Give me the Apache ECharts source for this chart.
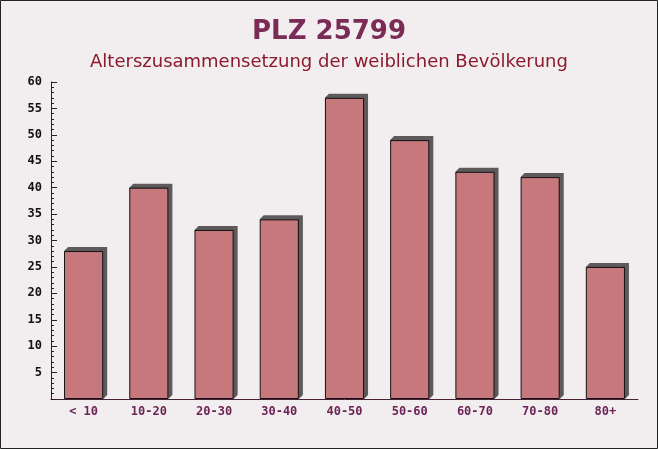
<!DOCTYPE html>
<html><head><meta charset="utf-8">
<script src="https://cdn.jsdelivr.net/npm/echarts@6/dist/echarts.min.js"></script>
<style>html,body{margin:0;padding:0;background:#f2eef0}#c{width:658px;height:449px}</style>
</head><body><div id="c"></div>
<script>
const categories = ['< 10','10-20','20-30','30-40','40-50','50-60','60-70','70-80','80+'];
const values = [28, 40, 32, 34, 57, 49, 43, 42, 25];
const yTicks = [5,10,15,20,25,30,35,40,45,50,55,60];
const titleText = 'PLZ 25799';
const subtitleText = 'Alterszusammensetzung der weiblichen Bevölkerung';

const chart = echarts.init(document.getElementById('c'), null, {renderer:'canvas'});
const D = 4;
chart.setOption({
  backgroundColor: '#f2eef0',
  animation: false,
  graphic: [
    {type:'rect', z:-10, silent:true, shape:{x:0.5,y:0.5,width:657,height:448}, style:{fill:'none', stroke:'#222', lineWidth:1}}
  ],
  title: [
    {text: titleText, left: 'center', top: 14, textStyle:{fontFamily:'DejaVu Sans', fontWeight:'bold', fontSize:26, color:'#7a2b56'}},
    {text: subtitleText, left: 'center', top: 48, textStyle:{fontFamily:'DejaVu Sans', fontWeight:'normal', fontSize:18, color:'#8a1a2c'}}
  ],
  grid: {left: 51, right: 20, top: 82, bottom: 50},
  xAxis: {
    type:'category', data: categories,
    axisLine:{lineStyle:{color:'#4a2038', width:1}},
    axisTick:{inside:true, length:5, alignWithLabel:false, lineStyle:{color:'#4a2038'}},
    axisLabel:{fontFamily:'DejaVu Sans Mono', fontWeight:'bold', fontSize:12, color:'#6b2455', margin:7}
  },
  yAxis: {
    type:'value', min:0, max:60, interval:5,
    axisLine:{show:true, lineStyle:{color:'#222', width:1}},
    axisTick:{show:true, inside:true, length:6, lineStyle:{color:'#222'}},
    minorTick:{show:true, splitNumber:5, length:3, lineStyle:{color:'#222'}},
    splitLine:{show:false},
    axisLabel:{fontFamily:'DejaVu Sans Mono', fontWeight:'bold', fontSize:12, color:'#111', margin:9,
      formatter: v => yTicks.includes(v) ? String(v) : ''}
  },
  series: [
    {
      type:'custom', z:1,
      data: values.map((v,i)=>[i,v]),
      renderItem: function(params, api){
        const top = api.coord([api.value(0), api.value(1)]);
        const base = api.coord([api.value(0), 0]);
        const bw = api.size([1,0])[0]*0.6;
        const x0 = top[0]-bw/2, x1 = top[0]+bw/2;
        return {type:'polygon', shape:{points:[[x0,top[1]],[x0+D,top[1]-D],[x1+D,top[1]-D],[x1+D,base[1]-D],[x1,base[1]]]},
          style:{fill:'#5e5a5c'}};
      }
    },
    {
      type:'bar', z:2, data: values, barWidth:'60%',
      itemStyle:{color:'#c7787d', borderColor:'#111', borderWidth:1}
    }
  ]
});
</script></body></html>
